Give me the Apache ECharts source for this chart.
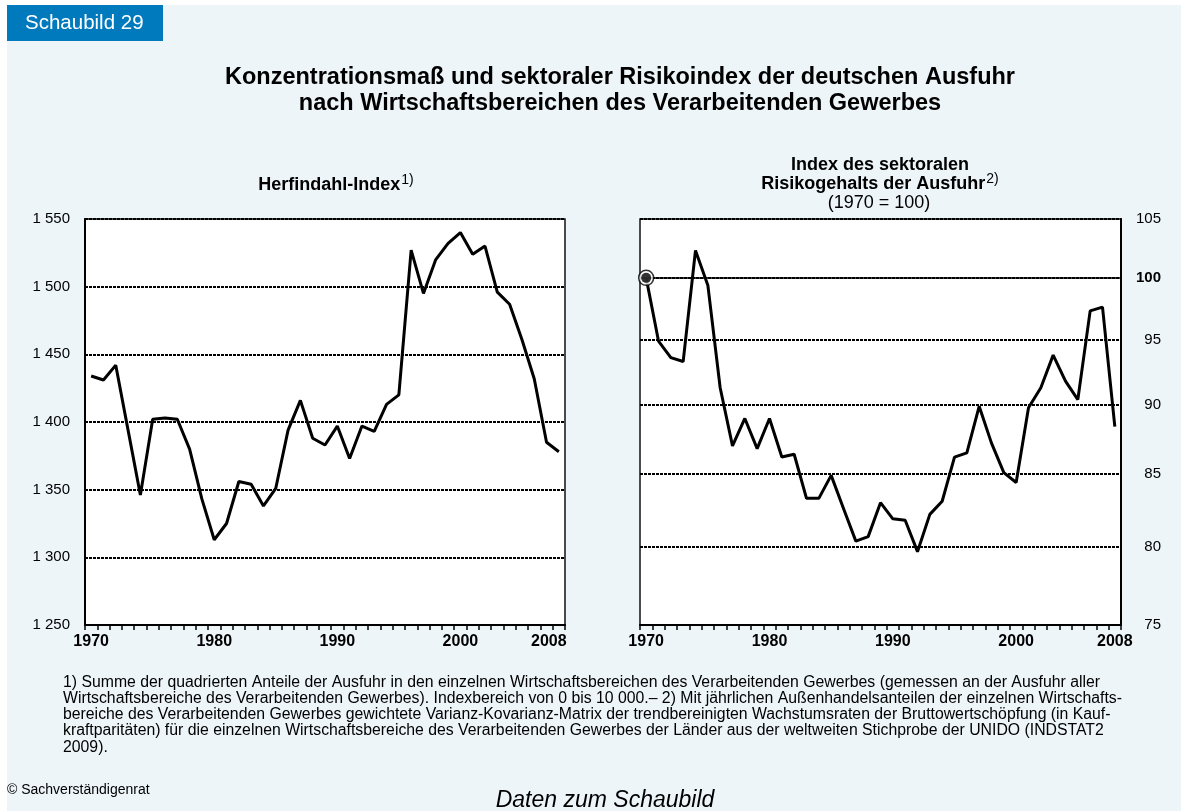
<!DOCTYPE html>
<html>
<head>
<meta charset="utf-8">
<title>Schaubild 29</title>
<script src="https://cdn.jsdelivr.net/npm/echarts@6/dist/echarts.min.js"></script>
<style>
  html, body { margin: 0; padding: 0; background: #fff; }
  #chart { width: 1181px; height: 811px; }
</style>
</head>
<body>
<div id="chart"></div>
<script>
// Jahre (Kategorien)
const years = [
  '1970', '1971', '1972', '1973', '1974', '1975', '1976', '1977', '1978', '1979',
  '1980', '1981', '1982', '1983', '1984', '1985', '1986', '1987', '1988', '1989',
  '1990', '1991', '1992', '1993', '1994', '1995', '1996', '1997', '1998', '1999',
  '2000', '2001', '2002', '2003', '2004', '2005', '2006', '2007', '2008'
]
const labelYears = ['1970', '1980', '1990', '2000', '2008']

// Herfindahl-Index
const herfindahl = [
  1434, 1431, 1442, 1394, 1346, 1402, 1403, 1402, 1380, 1343,
  1313, 1325, 1356, 1354, 1338, 1351, 1394, 1416, 1388, 1383,
  1397, 1373, 1397, 1393, 1413, 1420, 1527, 1495, 1520, 1532,
  1540, 1524, 1530, 1496, 1487, 1461, 1432, 1385, 1378
]
const herfTicks = [1250, 1300, 1350, 1400, 1450, 1500, 1550]

// Index des sektoralen Risikogehalts (1970 = 100), logarithmische Skala
const riskIndex = [
  100, 94.9, 93.6, 93.3, 102.3, 99.4, 91.3, 87.0, 89.0, 86.8,
  89.0, 86.2, 86.4, 83.3, 83.3, 84.9, 82.6, 80.4, 80.7, 83.0,
  81.9, 81.8, 79.7, 82.2, 83.1, 86.2, 86.5, 89.9, 87.2, 85.1,
  84.4, 89.8, 91.3, 93.8, 91.8, 90.4, 97.3, 97.6, 88.4
]
const riskTicks = [75, 80, 85, 90, 95, 100, 105]
const baseValue = 100

const FONT = '"Liberation Sans", Arial, Helvetica, sans-serif'
const chart = echarts.init(document.getElementById('chart'))

const gridStyle = {
  show: true,
  backgroundColor: '#fff',
  borderColor: '#111',
  borderWidth: 1.5,
  top: 219,
  height: 406
}
const dotted = { color: '#000', width: 2, type: [3, 1] }

function xAxis(gridIndex) {
  return {
    type: 'category',
    gridIndex: gridIndex,
    data: years,
    boundaryGap: true,
    axisLine: { show: true, lineStyle: { color: '#000', width: 2 } },
    axisTick: { show: true, interval: 0, length: 5, lineStyle: { color: '#000', width: 1.5 } },
    axisLabel: {
      interval: (i, v) => labelYears.includes(v),
      color: '#000',
      fontFamily: FONT,
      fontWeight: 'bold',
      fontSize: 16,
      margin: 9,
      // im linken Teil steht die letzte Jahreszahl etwas nach links versetzt
      formatter: v => (gridIndex === 0 && v === years[years.length - 1] ? '{r|' + v + '}' : v),
      rich: { r: { fontFamily: FONT, fontWeight: 'bold', fontSize: 16, color: '#000', padding: [0, 20, 0, 0] } }
    },
    splitLine: { show: false }
  }
}

const supRich = {
  a: { fontFamily: FONT, fontWeight: 'bold', fontSize: 18, fill: '#000' },
  s: { fontFamily: FONT, fontSize: 14, fill: '#000', padding: [0, 0, 10, 1] }
}

const option = {
  animation: false,
  textStyle: { fontFamily: FONT },
  graphic: [
    { type: 'rect', silent: true, z: -10, shape: { x: 7, y: 5, width: 1174, height: 806 }, style: { fill: '#edf5f9' } },
    { type: 'rect', silent: true, shape: { x: 7, y: 5, width: 156, height: 36 }, style: { fill: '#0079bd' } },
    { type: 'text', silent: true, style: { x: 25, y: 23, text: 'Schaubild 29', font: '20.5px ' + FONT, fill: '#fff', textVerticalAlign: 'middle' } },
    {
      type: 'text', silent: true,
      style: {
        x: 620, y: 65, textAlign: 'center',
        text: 'Konzentrationsmaß und sektoraler Risikoindex der deutschen Ausfuhr\nnach Wirtschaftsbereichen des Verarbeitenden Gewerbes',
        font: 'bold 23.5px ' + FONT, lineHeight: 26, fill: '#000'
      }
    },
    {
      type: 'text', silent: true,
      style: { x: 336, y: 185, textAlign: 'center', textVerticalAlign: 'middle', text: '{a|Herfindahl-Index}{s|1)}', rich: supRich }
    },
    {
      type: 'text', silent: true,
      style: {
        x: 880, y: 165, textAlign: 'center', textVerticalAlign: 'middle',
        text: 'Index des sektoralen', font: 'bold 18px ' + FONT, fill: '#000'
      }
    },
    {
      type: 'text', silent: true,
      style: { x: 880, y: 184, textAlign: 'center', textVerticalAlign: 'middle', text: '{a|Risikogehalts der Ausfuhr}{s|2)}', rich: supRich }
    },
    {
      type: 'text', silent: true,
      style: {
        x: 879, y: 203, textAlign: 'center', textVerticalAlign: 'middle',
        text: '(1970 = 100)', font: '18px ' + FONT, fill: '#000'
      }
    },
    {
      type: 'text', silent: true,
      style: {
        x: 63, y: 674,
        text: '1) Summe der quadrierten Anteile der Ausfuhr in den einzelnen Wirtschaftsbereichen des Verarbeitenden Gewerbes (gemessen an der Ausfuhr aller\n' +
          'Wirtschaftsbereiche des Verarbeitenden Gewerbes). Indexbereich von 0 bis 10 000.– 2) Mit jährlichen Außenhandelsanteilen der einzelnen Wirtschafts-\n' +
          'bereiche des Verarbeitenden Gewerbes gewichtete Varianz-Kovarianz-Matrix der trendbereinigten Wachstumsraten der Bruttowertschöpfung (in Kauf-\n' +
          'kraftparitäten) für die einzelnen Wirtschaftsbereiche des Verarbeitenden Gewerbes der Länder aus der weltweiten Stichprobe der UNIDO (INDSTAT2\n' +
          '2009).',
        font: '15.8px ' + FONT, lineHeight: 16.3, fill: '#000'
      }
    },
    {
      type: 'text', silent: true,
      style: { x: 7, y: 790, textVerticalAlign: 'middle', text: '© Sachverständigenrat', font: '14px ' + FONT, fill: '#000' }
    },
    {
      type: 'text', silent: true,
      style: { x: 605, y: 801, textAlign: 'center', textVerticalAlign: 'middle', text: 'Daten zum Schaubild', font: 'italic 23px ' + FONT, fill: '#000' }
    }
  ],
  grid: [
    Object.assign({}, gridStyle, { left: 85, width: 480 }),
    Object.assign({}, gridStyle, { left: 640, width: 481 })
  ],
  xAxis: [xAxis(0), xAxis(1)],
  yAxis: [
    {
      type: 'value',
      gridIndex: 0,
      min: herfTicks[0],
      max: herfTicks[herfTicks.length - 1],
      interval: 50,
      axisLine: { show: true, lineStyle: { color: '#000', width: 2 } },
      axisTick: { show: false },
      axisLabel: {
        color: '#000',
        fontSize: 15,
        margin: 15,
        formatter: v => String(v).replace(/\B(?=(\d{3})+(?!\d))/g, ' ')
      },
      splitLine: { show: true, lineStyle: dotted }
    },
    {
      type: 'log',
      logBase: 10,
      gridIndex: 1,
      position: 'right',
      min: riskTicks[0],
      max: riskTicks[riskTicks.length - 1],
      axisLine: { show: true, lineStyle: { color: '#000', width: 2 } },
      axisTick: { show: false, customValues: riskTicks },
      axisLabel: {
        customValues: riskTicks,
        color: '#000',
        fontSize: 15,
        margin: 40,
        align: 'right',
        showMinLabel: true,
        showMaxLabel: true,
        formatter: v => (Math.round(v) === baseValue ? '{b|' + baseValue + '}' : String(Math.round(v))),
        rich: { b: { fontWeight: 'bold', fontSize: 15, color: '#000' } }
      },
      splitLine: { show: true, lineStyle: dotted }
    }
  ],
  series: [
    {
      name: 'Herfindahl-Index',
      type: 'line',
      xAxisIndex: 0,
      yAxisIndex: 0,
      data: herfindahl,
      symbol: 'none',
      lineStyle: { color: '#000', width: 3 },
      z: 5
    },
    {
      name: 'Risikogehalt',
      type: 'line',
      xAxisIndex: 1,
      yAxisIndex: 1,
      data: riskIndex,
      symbol: 'none',
      lineStyle: { color: '#000', width: 3 },
      z: 5,
      markLine: {
        silent: true,
        symbol: 'none',
        label: { show: false },
        lineStyle: { color: '#000', width: 1.5, type: 'solid' },
        data: [{ yAxis: baseValue }]
      }
    },
    {
      type: 'scatter',
      xAxisIndex: 1,
      yAxisIndex: 1,
      data: [[years[0], riskIndex[0]]],
      symbol: 'circle',
      symbolSize: 15,
      itemStyle: { color: '#fff', borderColor: '#000', borderWidth: 1.5 },
      z: 6
    },
    {
      type: 'scatter',
      xAxisIndex: 1,
      yAxisIndex: 1,
      data: [[years[0], riskIndex[0]]],
      symbol: 'circle',
      symbolSize: 10,
      itemStyle: { color: '#000' },
      z: 7
    }
  ]
}

chart.setOption(option)
</script>
</body>
</html>
